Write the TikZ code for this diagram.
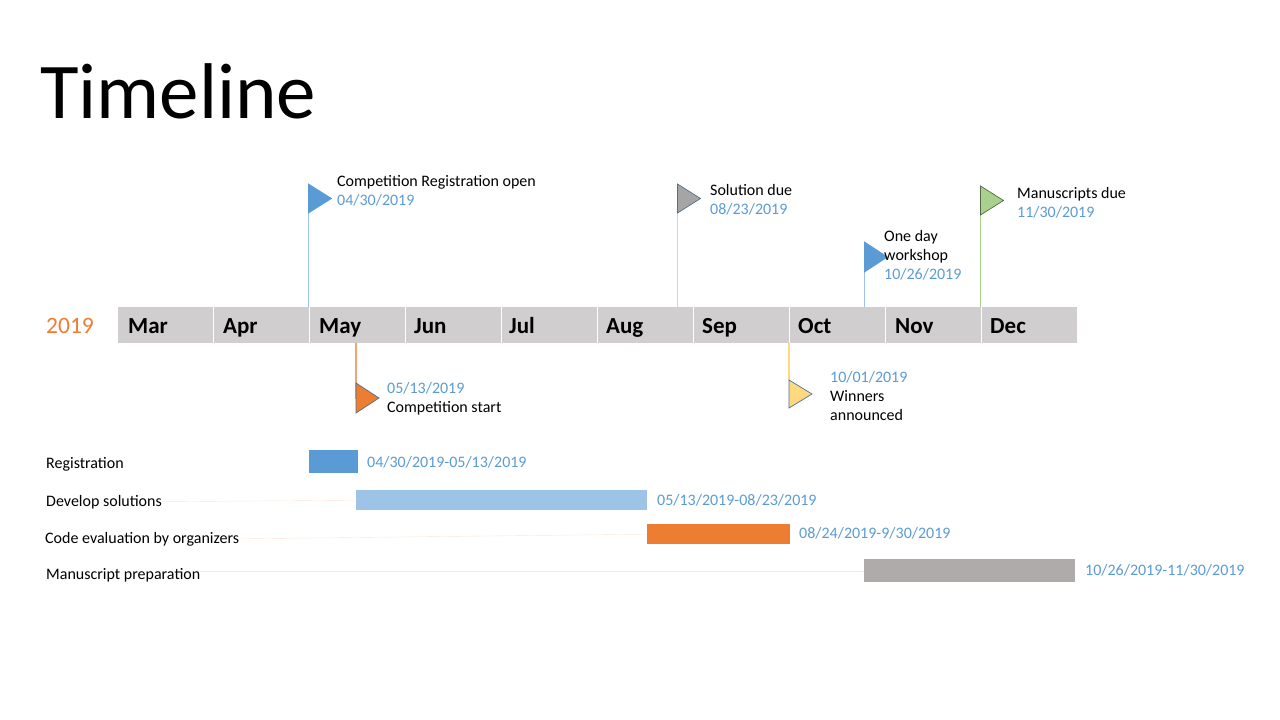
\documentclass[tikz,border=0pt]{standalone}
\usepackage{fontspec}
\setmainfont{Carlito}
\definecolor{dateblue}{HTML}{5B9BD5}
\definecolor{lightblue}{HTML}{9DC3E6}
\definecolor{barorange}{HTML}{ED7D31}
\definecolor{bargray}{HTML}{AFABAB}
\definecolor{monthgray}{HTML}{D0CECE}
\definecolor{flaggray}{HTML}{A5A5A5}
\definecolor{flagyellow}{HTML}{FFD97F}
\definecolor{flaggreen}{HTML}{A9D18E}
\definecolor{faintline}{HTML}{FBE5D6}
\definecolor{flagedge}{HTML}{4F6F8F}
\tikzset{
    month/.style={fill=monthgray,minimum width=95pt,minimum height=36pt,inner sep=0pt,anchor=west},
    monthtext/.style={anchor=base west,inner sep=0pt,font=\fontsize{23}{26}\selectfont\bfseries},
    eventtext/.style={anchor=base west,inner sep=0pt,font=\fontsize{16}{19}\selectfont},
    datetext/.style={eventtext,text=dateblue},
    pole/.style={line width=1.4pt},
    flag/.style={draw=flagedge,line width=0.7pt,line join=miter},
    bar/.style={inner sep=0pt,anchor=north west},
}
\begin{document}
\begin{tikzpicture}[x=1pt,y=-1pt]
\useasboundingbox (0,0) rectangle (1280,720);
\node[anchor=base west,inner sep=0pt,font=\fontsize{79}{90}\selectfont] (title) at (40,118) {Timeline};
\node[anchor=base west,inner sep=0pt,text=barorange,font=\fontsize{23.5}{26}\selectfont] (year) at (46,333) {2019};
% months
\foreach \name/\xcell/\xtext in {Mar/118/128,Apr/214/223,May/310/319,Jun/406/414,Jul/502/509,Aug/598/606,Sep/694/702,Oct/790/798,Nov/886/895,Dec/982/990}{
    \node[month] (cell\name) at (\xcell,325) {};
    \node[monthtext] (label\name) at (\xtext,333) {\name};
}
% flag poles
\coordinate (poleReg) at (308.5,184);
\coordinate (poleStart) at (356,399);
\coordinate (poleSol) at (677.5,184);
\coordinate (poleWin) at (789,380);
\coordinate (poleWork) at (864.5,242);
\coordinate (poleMan) at (980.5,186);
\draw[pole,lightblue] (308.5,307)--(poleReg);
\draw[pole,barorange!70!white] (356,343)--(poleStart);
\draw[pole,gray!35] (677.5,307)--(poleSol);
\draw[pole,flagyellow] (789,343)--(poleWin);
\draw[pole,lightblue] (864.5,307)--(poleWork);
\draw[pole,flaggreen] (980.5,307)--(poleMan);
% flags
\draw[flag,fill=dateblue,draw=dateblue] (poleReg)--++(23,14.5)--++(-23,14.5)--cycle;
\draw[flag,fill=barorange] (356,383)--++(23,15)--++(-23,15)--cycle;
\draw[flag,fill=flaggray] (poleSol)--++(23,14.5)--++(-23,14.5)--cycle;
\draw[flag,fill=flagyellow] (poleWin)--++(23,14)--++(-23,14)--cycle;
\draw[flag,fill=dateblue,draw=dateblue] (poleWork)--++(23,15)--++(-23,15)--cycle;
\draw[flag,fill=flaggreen,draw=flaggreen!50!black] (poleMan)--++(23,14.5)--++(-23,14.5)--cycle;
% event texts
\node[eventtext] (txtReg) at (337,186) {Competition Registration open};
\node[datetext] (dateReg) at (337,205) {04/30/2019};
\node[datetext] (dateStart) at (387,393) {05/13/2019};
\node[eventtext] (txtStart) at (387,412) {Competition start};
\node[eventtext] (txtSol) at (710,195) {Solution due};
\node[datetext] (dateSol) at (710,214) {08/23/2019};
\node[datetext] (dateWin) at (830,382) {10/01/2019};
\node[eventtext] (txtWin) at (830,401) {Winners};
\node[eventtext] (txtWinB) at (830,420) {announced};
\node[eventtext] (txtWork) at (884,241) {One day};
\node[eventtext] (txtWorkB) at (884,260) {workshop};
\node[datetext] (dateWork) at (884,279) {10/26/2019};
\node[eventtext] (txtMan) at (1017,198) {Manuscripts due};
\node[datetext] (dateMan) at (1017,217) {11/30/2019};
% phases
\node[eventtext] (phaseReg) at (46,468) {Registration};
\node[eventtext] (phaseDev) at (46,506) {Develop solutions};
\node[eventtext] (phaseCode) at (45,543) {Code evaluation by organizers};
\node[eventtext] (phaseMan) at (46,579) {Manuscript preparation};
\node[bar,fill=dateblue,minimum width=49pt,minimum height=23pt] (barReg) at (309,450) {};
\node[bar,fill=lightblue,minimum width=291pt,minimum height=20pt] (barDev) at (356,490) {};
\node[bar,fill=barorange,minimum width=143pt,minimum height=20pt] (barCode) at (647,524) {};
\node[bar,fill=bargray,minimum width=211pt,minimum height=23pt] (barMan) at (864,559) {};
\draw[faintline] (phaseDev.east)--(barDev.west);
\draw[faintline] (phaseCode.east)--(barCode.west);
\draw[faintline] (phaseMan.east|-barMan.west)--(barMan.west);
\node[datetext] (rangeReg) at (367,467) {04/30/2019-05/13/2019};
\node[datetext] (rangeDev) at (657,505) {05/13/2019-08/23/2019};
\node[datetext] (rangeCode) at (799,538) {08/24/2019-9/30/2019};
\node[datetext] (rangeMan) at (1085,575) {10/26/2019-11/30/2019};
\end{tikzpicture}
\end{document}
